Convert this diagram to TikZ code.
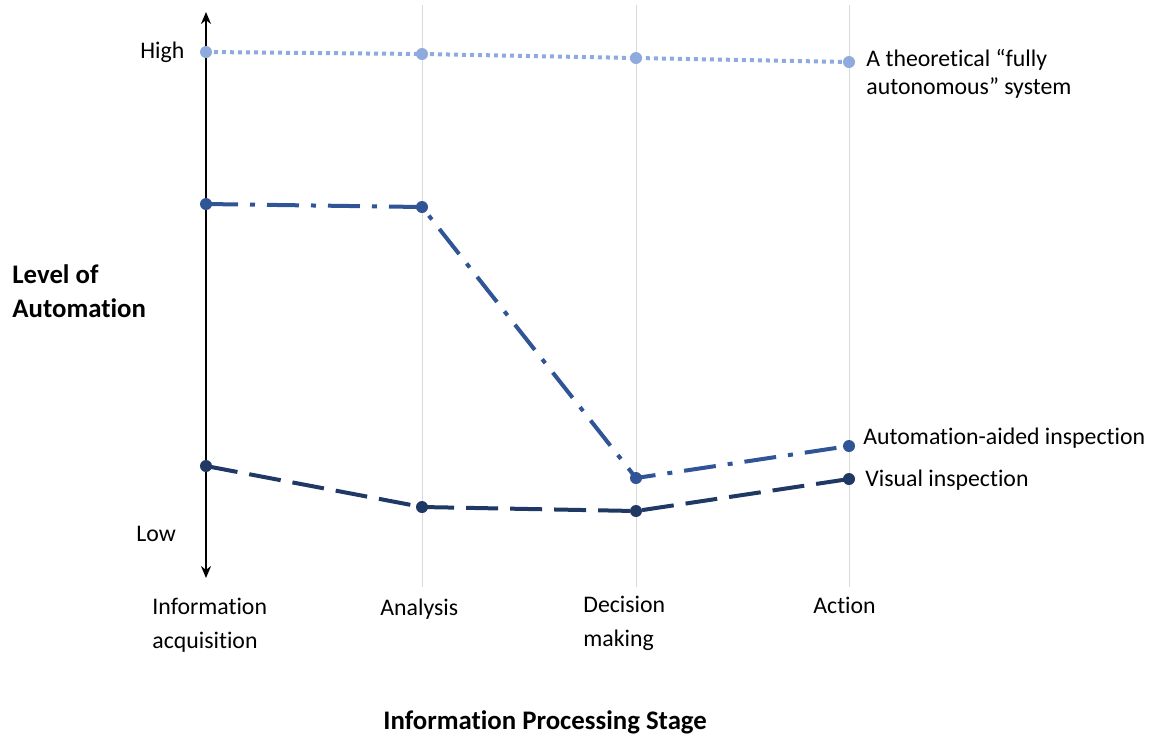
\documentclass[tikz,border=0pt]{standalone}
\usepackage{fontspec}
\setmainfont{Carlito}[Ligatures={NoCommon,NoContextual}]
\usetikzlibrary{arrows.meta}
\definecolor{lightblue}{HTML}{8FAADC}
\definecolor{midblue}{HTML}{2F5597}
\definecolor{navy}{HTML}{203864}
\definecolor{gridgray}{HTML}{D9D9D9}
\begin{document}
\begin{tikzpicture}[x=0.5pt,y=-0.5pt,
  lbl/.style={font=\fontsize{11.9}{17}\selectfont, inner sep=0pt, anchor=base west, align=left},
  blbl/.style={lbl, font=\fontsize{13.4}{17}\selectfont\bfseries},
  gridln/.style={draw=gridgray, line width=0.5pt},
  dotA/.style={circle, fill=lightblue, inner sep=0pt, minimum size=6pt},
  dotB/.style={circle, fill=midblue, inner sep=0pt, minimum size=6pt},
  dotC/.style={circle, fill=navy, inner sep=0pt, minimum size=6pt},
  lineA/.style={draw=lightblue, line width=2pt, dash pattern=on 2pt off 2pt},
  lineB/.style={draw=midblue, line width=2pt, dash pattern=on 16pt off 6pt on 2.5pt off 6pt},
  lineC/.style={draw=navy, line width=2pt, dash pattern=on 16pt off 6pt},
]
\useasboundingbox (0,0) rectangle (1150,736);
% grid lines
\coordinate (g1t) at (422,5); \coordinate (g1b) at (422,587);
\coordinate (g2t) at (636,5); \coordinate (g2b) at (636,587);
\coordinate (g3t) at (849,5); \coordinate (g3b) at (849,587);
\draw[gridln] (g1t) -- (g1b);
\draw[gridln] (g2t) -- (g2b);
\draw[gridln] (g3t) -- (g3b);
% axis
\coordinate (axt) at (206,12); \coordinate (axb) at (206,578);
\draw[line width=1pt, {Stealth[length=6pt,width=5pt]}-{Stealth[length=6pt,width=5pt]}] (axb) -- (axt);
% dots
\node[dotA] (a1) at (206,52) {};
\node[dotA] (a2) at (422,54) {};
\node[dotA] (a3) at (636,58) {};
\node[dotA] (a4) at (849,62) {};
\node[dotB] (b1) at (206,204) {};
\node[dotB] (b2) at (422,207) {};
\node[dotB] (b3) at (636,478) {};
\node[dotB] (b4) at (849,446) {};
\node[dotC] (c1) at (206,466) {};
\node[dotC] (c2) at (422,507) {};
\node[dotC] (c3) at (636,511) {};
\node[dotC] (c4) at (849,479) {};
% lines
\draw[lineA] (a1.center) -- (a2.center) -- (a3.center) -- (a4.center);
\draw[lineB] (b1.center) -- (b2.center) -- (b3.center) -- (b4.center);
\draw[lineC] (c1.center) -- (c2.center) -- (c3.center) -- (c4.center);
% labels
\node[lbl] (high) at (140,58) {High};
\node[lbl] (low) at (136,541) {Low};
\node[blbl] (loa) at (12,317) {Level of\\Automation};
\node[lbl] (x1) at (152,648) {Information\\acquisition};
\node[lbl] (x2) at (380,615) {Analysis};
\node[lbl] (x3) at (583,646) {Decision\\making};
\node[lbl] (x4) at (813,613) {Action};
\node[blbl] (xt) at (383,729) {Information Processing Stage};
\node[lbl, font=\fontsize{11.9}{14}\selectfont] (la) at (866,94) {A theoretical “fully\\autonomous” system};
\node[lbl] (lb) at (863,444) {Automation-aided inspection};
\node[lbl] (lc) at (865,486) {Visual inspection};
\end{tikzpicture}
\end{document}
